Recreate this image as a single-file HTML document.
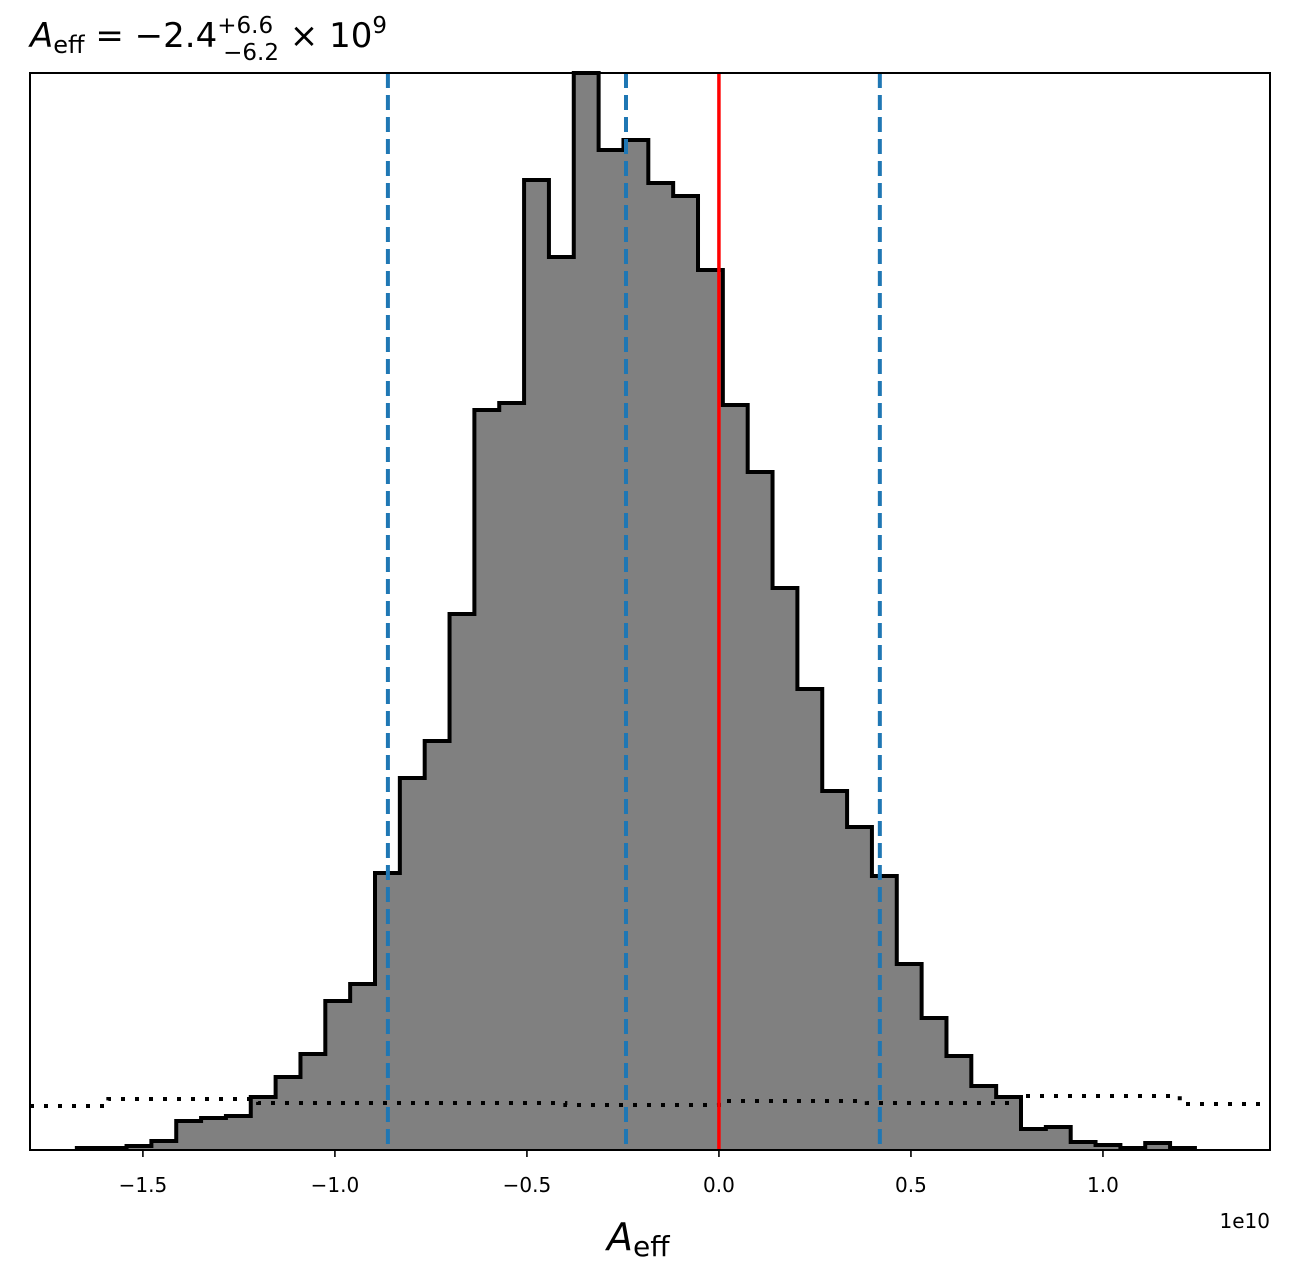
<!DOCTYPE html>
<html><head><meta charset="utf-8"><style>
body{margin:0;background:#fff;}
svg text{font-family:"DejaVu Sans","Liberation Sans",sans-serif;}
</style></head><body>
<svg id="chart" width="1289" height="1278" viewBox="0 0 1289 1278" xmlns="http://www.w3.org/2000/svg">
<rect width="1289" height="1278" fill="#fff"/>
<g id="hist"></g>
<g id="prior"></g>
<g id="vlines"></g>
<rect x="30" y="73" width="1240" height="1077" fill="none" stroke="#000" stroke-width="2"/>
<g id="xticks"></g>
<text x="30" y="47" font-size="34"><tspan font-style="italic">A</tspan><tspan font-size="24" dy="6">eff</tspan><tspan dy="-6"> = −2.4</tspan><tspan font-size="23" dy="-14">+6.6</tspan><tspan font-size="23" dx="-50" dy="27">−6.2</tspan><tspan dy="-13"> × 10</tspan><tspan font-size="23" dy="-14">9</tspan></text>
<text x="607" y="1250" font-size="38"><tspan font-style="italic">A</tspan><tspan font-size="28" dy="6">eff</tspan></text>
<text x="1270" y="1228" font-size="20" text-anchor="end">1e10</text>
</svg>
<script>
const binStart = -1.672;   // in 1e10
const binWidth = 0.0647;
const counts = [2,2,4,9,29,32,34,53,73,96,149,166,277,372,409,536,740,747,970,893,1077,1000,1010,967,954,880,745,678,562,461,359,323,274,186,132,94,64,53,21,23,8,5,2,7,2];
const priorEdges = [-1.794,-1.59,-1.20,-0.40,0.0,0.385,0.795,1.20,1.435];
const priorVals = [44,51,47,45,49,47,54,46];
const blueLines = [-0.862,-0.242,0.419];
const redLine = [0.0];
const tickVals = [-1.5,-1.0,-0.5,0.0,0.5,1.0];
const tickLabels = ["−1.5","−1.0","−0.5","0.0","0.5","1.0"];
const X0=30,X1=1270,Y0=73,Y1=1150,XMIN=-1.794,XMAX=1.435,YMAX=1077;
const NS="http://www.w3.org/2000/svg";
function sx(v){return X0+(v-XMIN)/(XMAX-XMIN)*(X1-X0);}
function sy(v){return Y1-v/YMAX*(Y1-Y0);}
function mk(t,a,p){const e=document.createElementNS(NS,t);for(const k in a)e.setAttribute(k,a[k]);p.appendChild(e);return e;}
const hist=document.getElementById('hist');
let d='M'+sx(binStart)+','+Y1;
counts.forEach((c,i)=>{const xa=sx(binStart+i*binWidth),xb=sx(binStart+(i+1)*binWidth);d+=' L'+xa+','+sy(c)+' L'+xb+','+sy(c);});
d+=' L'+sx(binStart+counts.length*binWidth)+','+Y1;
const fill=mk('path',{d:d+' Z',fill:'#808080',stroke:'none'},hist);


const outl=mk('path',{d:d,fill:'none',stroke:'#000','stroke-width':4,'stroke-linejoin':'miter'},hist);


const prior=document.getElementById('prior');
let pd='';
priorVals.forEach((v,i)=>{pd+=(i?' L':'M')+sx(priorEdges[i])+','+sy(v)+' L'+sx(priorEdges[i+1])+','+sy(v);});
const pl=mk('path',{d:pd,fill:'none',stroke:'#000','stroke-width':4,'stroke-dasharray':'4,10'},prior);


const vl=document.getElementById('vlines');
blueLines.forEach(v=>{const l=mk('line',{x1:sx(v),x2:sx(v),y1:Y0,y2:Y1,stroke:'#1f77b4','stroke-width':4,'stroke-dasharray':'15,7'},vl);

});
redLine.forEach(v=>{const l=mk('line',{x1:sx(v),x2:sx(v),y1:Y0,y2:Y1,stroke:'#ff0000','stroke-width':3.5},vl);

});
const xt=document.getElementById('xticks');
tickVals.forEach((v,i)=>{const x=sx(v);
const t=mk('line',{x1:x,x2:x,y1:Y1,y2:Y1+7,stroke:'#000','stroke-width':1.6},xt);


const tx=mk('text',{x:x,y:Y1+42,'font-size':20,'text-anchor':'middle'},xt);tx.textContent=tickLabels[i];

});
</script>
</body></html>
